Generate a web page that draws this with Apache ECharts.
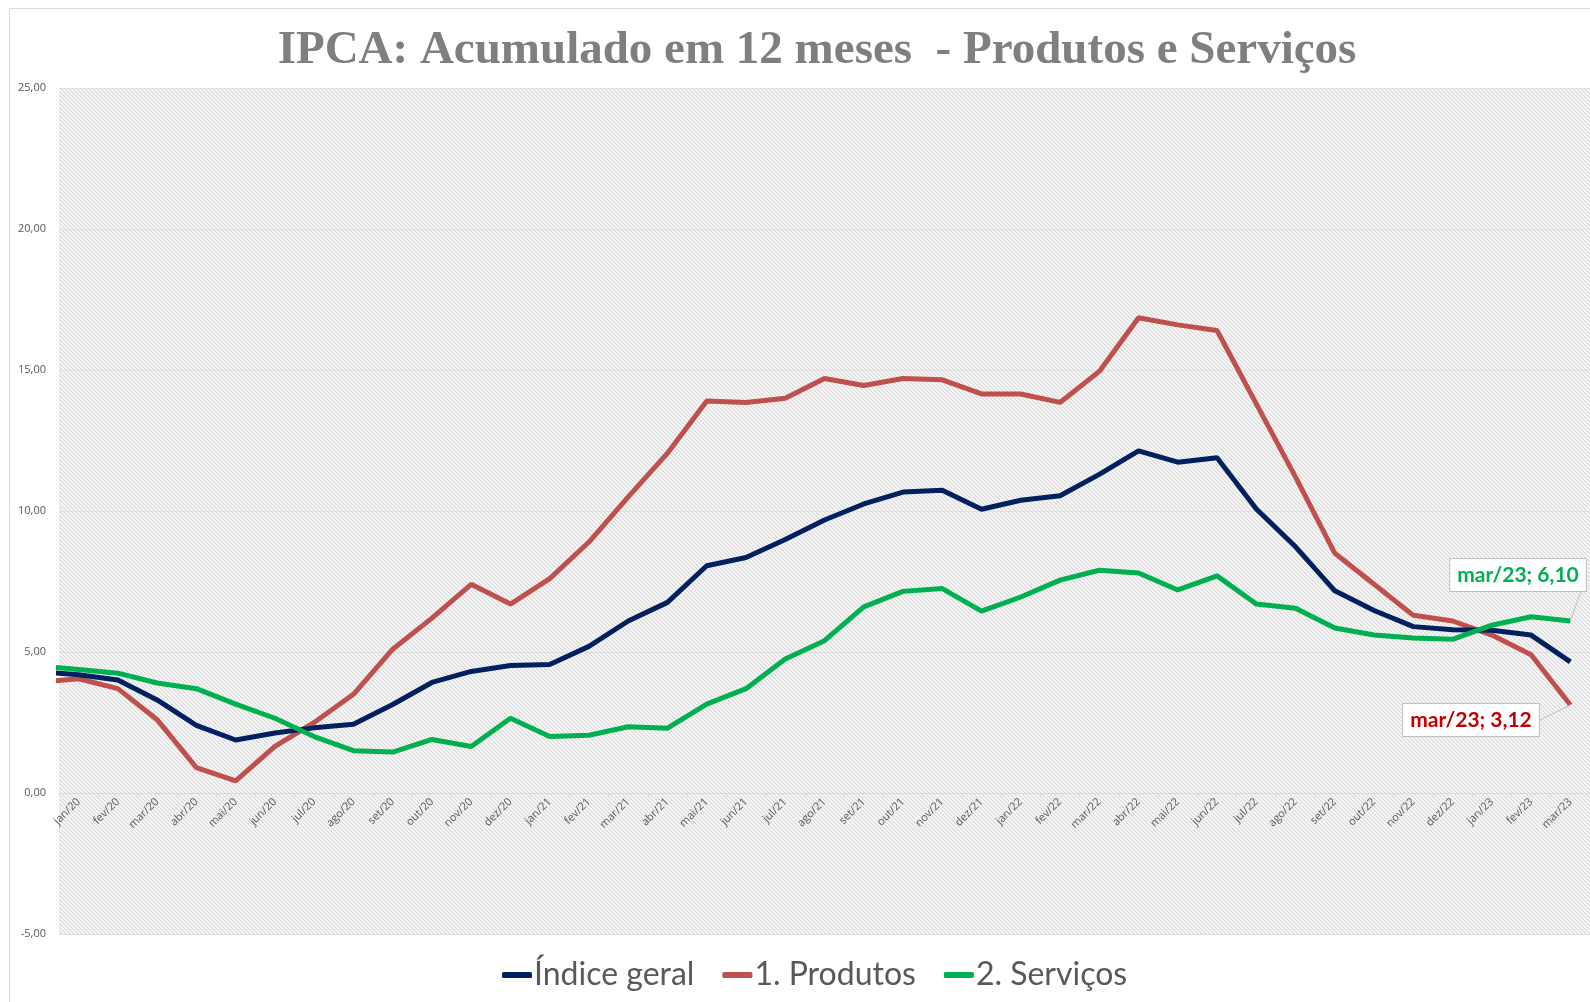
<!DOCTYPE html>
<html>
<head>
<meta charset="utf-8">
<script src="https://cdn.jsdelivr.net/npm/echarts@6/dist/echarts.min.js"></script>
<style>
html,body{margin:0;padding:0;background:#fff;}
#chart{width:1590px;height:1002px;}
</style>
</head>
<body>
<div id="chart"></div>
<script>
// First entry (dez/19) lies just left of the plot and is only visible as a clipped stub.
const months = ['dez/19','jan/20','fev/20','mar/20','abr/20','mai/20','jun/20','jul/20','ago/20','set/20','out/20','nov/20','dez/20',
  'jan/21','fev/21','mar/21','abr/21','mai/21','jun/21','jul/21','ago/21','set/21','out/21','nov/21','dez/21',
  'jan/22','fev/22','mar/22','abr/22','mai/22','jun/22','jul/22','ago/22','set/22','out/22','nov/22','dez/22',
  'jan/23','fev/23','mar/23'];
const indiceGeral = [4.31,4.19,4.01,3.30,2.40,1.88,2.13,2.31,2.44,3.14,3.92,4.31,4.52,
  4.56,5.20,6.10,6.76,8.06,8.35,8.99,9.68,10.25,10.67,10.74,10.06,
  10.38,10.54,11.30,12.13,11.73,11.89,10.07,8.73,7.17,6.47,5.90,5.79,
  5.77,5.60,4.65];
const produtos = [3.93,4.05,3.70,2.60,0.90,0.43,1.65,2.50,3.50,5.10,6.20,7.40,6.70,
  7.60,8.90,10.50,12.05,13.90,13.85,14.00,14.70,14.45,14.70,14.65,14.15,
  14.15,13.85,14.95,16.85,16.60,16.40,13.80,11.20,8.50,7.40,6.30,6.10,
  5.60,4.90,3.12];
const servicos = [4.50,4.38,4.25,3.90,3.70,3.15,2.65,2.00,1.50,1.45,1.90,1.65,2.65,
  2.00,2.05,2.35,2.30,3.15,3.70,4.75,5.40,6.60,7.15,7.25,6.45,
  6.95,7.55,7.90,7.80,7.20,7.70,6.70,6.55,5.85,5.60,5.50,5.45,
  5.95,6.25,6.10];
const yTicks = {min: -5, max: 25, interval: 5};
const titleText = 'IPCA: Acumulado em 12 meses  - Produtos e Serviços';
const seriesNames = ['Índice geral', '1. Produtos', '2. Serviços'];

const categories = months.slice(1);
const labelPositions = categories.map((_, i) => i);
const tickPositions = categories.map((_, i) => i - 0.5).concat([categories.length - 0.5]);

// layout
const GRID_TOP = 88, GRID_BOTTOM = 68, H = 1002;
const gridH = H - GRID_TOP - GRID_BOTTOM;
const zeroOffset = -gridH * (0 - yTicks.min) / (yTicks.max - yTicks.min); // move x axis up to y = 0

// hatch pattern for plot background
const pc = document.createElement('canvas');
pc.width = 4; pc.height = 4;
const g = pc.getContext('2d');
g.fillStyle = '#f9f9f9'; g.fillRect(0,0,4,4);
g.strokeStyle = '#d9d9d9'; g.lineWidth = 1.2;
g.beginPath(); g.moveTo(-1,-1); g.lineTo(5,5); g.moveTo(-1,3); g.lineTo(1,5); g.moveTo(3,-1); g.lineTo(5,1); g.stroke();

const fmt = v => v.toFixed(2).replace('.', ',');
function toData(arr, labelColor) {
  return arr.map((v, i) => {
    const item = {value: [i - 1, v]};
    if (labelColor && i === arr.length - 1) {
      item.label = {show: true, formatter: () => months[i] + '; ' + fmt(v), color: labelColor};
    }
    return item;
  });
}
const labelBase = {
  show: false, fontFamily: 'Lato', fontWeight: 'bold', fontSize: 21,
  backgroundColor: '#ffffff', borderColor: '#bfbfbf', borderWidth: 1, padding: [6, 7, 5, 7]
};

const chart = echarts.init(document.getElementById('chart'), null, {renderer: 'canvas'});
chart.setOption({
  animation: false,
  backgroundColor: '#ffffff',
  graphic: [{type: 'rect', shape: {x: 9.5, y: 8.5, width: 1700, height: 1100}, style: {fill: 'none', stroke: '#d9d9d9', lineWidth: 1}, silent: true, z: -10}],
  title: {
    text: titleText, left: 812, top: 22, textAlign: 'center',
    textStyle: {fontFamily: 'Liberation Serif', fontWeight: 'bold', fontSize: 47, color: '#7f7f7f'}
  },
  legend: {
    data: seriesNames, bottom: 6, left: 497, icon: 'roundRect', itemWidth: 30, itemHeight: 6, itemGap: 28,
    textStyle: {fontFamily: 'Lato', fontSize: 32, color: '#595959', padding: [0, 0, 0, -3]}
  },
  grid: {
    left: 59, top: GRID_TOP, right: -8, bottom: GRID_BOTTOM, show: true, borderWidth: 0,
    backgroundColor: {image: pc, repeat: 'repeat'}
  },
  xAxis: {
    type: 'value', min: -0.5, max: categories.length - 0.5, offset: zeroOffset,
    axisLine: {onZero: false, lineStyle: {color: '#d9d9d9', width: 1}},
    axisTick: {show: true, length: 4, customValues: tickPositions, lineStyle: {color: '#d9d9d9'}},
    axisLabel: {customValues: labelPositions, formatter: v => categories[Math.round(v)],
      rotate: 45, fontSize: 11, color: '#595959', fontFamily: 'Open Sans', margin: 7},
    splitLine: {show: false}
  },
  yAxis: {
    type: 'value', min: yTicks.min, max: yTicks.max, interval: yTicks.interval,
    axisLine: {show: false, onZero: false}, axisTick: {show: false},
    axisLabel: {formatter: fmt, fontSize: 11, color: '#595959', fontFamily: 'Open Sans', margin: 13},
    splitLine: {lineStyle: {color: '#e0e0e0', width: 1}}
  },
  series: [
    {name: seriesNames[0], type: 'line', data: toData(indiceGeral), showSymbol: false, symbol: 'none',
      lineStyle: {color: '#002060', width: 5}, itemStyle: {color: '#002060'}, z: 3},
    {name: seriesNames[1], type: 'line',
      data: toData(produtos, '#c00000'),
      symbol: 'circle', symbolSize: 0.1, showSymbol: true,
      lineStyle: {color: '#c0504d', width: 5}, itemStyle: {color: '#c0504d'}, z: 2,
      label: Object.assign({}, labelBase),
      labelLayout: {x: 1471, y: 720, align: 'center', verticalAlign: 'middle', hideOverlap: false},
      labelLine: {show: true, lineStyle: {color: '#bfbfbf', width: 1}}},
    {name: seriesNames[2], type: 'line',
      data: toData(servicos, '#00b050'),
      symbol: 'circle', symbolSize: 0.1, showSymbol: true,
      lineStyle: {color: '#00b050', width: 5}, itemStyle: {color: '#00b050'}, z: 4,
      label: Object.assign({}, labelBase),
      labelLayout: {x: 1518, y: 575, align: 'center', verticalAlign: 'middle', hideOverlap: false},
      labelLine: {show: true, lineStyle: {color: '#bfbfbf', width: 1}}}
  ]
});
</script>
</body>
</html>
